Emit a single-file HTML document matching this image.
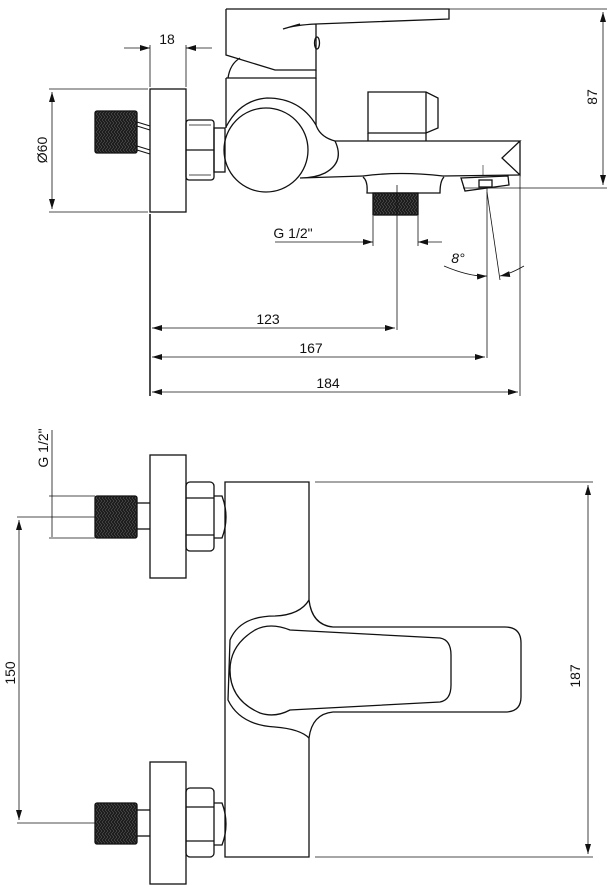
<!DOCTYPE html>
<html><head><meta charset="utf-8"><style>
html,body{margin:0;padding:0;background:#fff}
svg{display:block}
text{font-family:"Liberation Sans",sans-serif;font-size:14px;fill:#111}
</style></head><body>
<svg width="608" height="889" viewBox="0 0 608 889" xmlns="http://www.w3.org/2000/svg">
<defs>
<pattern id="th" width="3" height="6" patternUnits="userSpaceOnUse">
<rect width="3" height="6" fill="#1e1e1e"/><path d="M0 0 L3 3 L0 6" stroke="#666" stroke-width="0.5" fill="none"/>
</pattern>
<marker id="a" viewBox="0 0 10 6" refX="10" refY="3" markerWidth="10" markerHeight="6" orient="auto-start-reverse" markerUnits="userSpaceOnUse"><path d="M0 0 L10 3 L0 6 Z" fill="#111"/></marker>
</defs>
<g fill="none" stroke="#111" stroke-width="1.3">
<!-- TOP VIEW -->
<line x1="150" y1="45" x2="150" y2="87" stroke-width="0.8"/>
<line x1="186" y1="45" x2="186" y2="87" stroke-width="0.8"/>
<line x1="124" y1="48" x2="150" y2="48" stroke-width="0.8" marker-end="url(#a)"/>
<line x1="212" y1="48" x2="186" y2="48" stroke-width="0.8" marker-end="url(#a)"/>
<rect x="150" y="89" width="36" height="123"/>
<line x1="49" y1="89" x2="148" y2="89" stroke-width="0.8"/>
<line x1="49" y1="212" x2="148" y2="212" stroke-width="0.8"/>
<line x1="52" y1="92" x2="52" y2="209" stroke-width="0.8" marker-start="url(#a)" marker-end="url(#a)"/>
<rect x="95" y="111" width="42" height="42" fill="url(#th)" rx="2"/>
<line x1="137" y1="122" x2="150" y2="126" stroke-width="1"/>
<line x1="137" y1="126" x2="150" y2="130" stroke-width="1"/>
<line x1="137" y1="146" x2="150" y2="150" stroke-width="1"/>
<line x1="137" y1="150" x2="150" y2="154" stroke-width="1"/>
<rect x="186" y="120" width="28" height="60" rx="3"/>
<line x1="186" y1="150" x2="214" y2="150"/>
<line x1="189" y1="125" x2="211" y2="125" stroke-width="0.8"/>
<line x1="189" y1="175" x2="211" y2="175" stroke-width="0.8"/>
<rect x="214" y="128" width="11" height="44"/>
<!-- lever -->
<path d="M226 9 L449 9 L449 19 L316 24 Q295 25 283 29 L300 24 M316 24 L316 70 L275 70 L226 55 L226 9"/>
<ellipse cx="317" cy="43" rx="2.5" ry="6"/>
<!-- dome & body -->
<path d="M228 78 Q230 64 240 58"/>
<path d="M226 78 L316 78 L316 70"/>
<line x1="226" y1="78" x2="226" y2="128"/>
<path d="M226 127 Q240 100 267 98 Q300 98 316 125"/>
<line x1="316" y1="78" x2="316" y2="125"/>
<path d="M316 125 Q320 137 335 141 L520 141 L502 158 L520 175 L520 141"/>
<path d="M335 141 Q345 162 325 173 Q315 178 300 178 L363 176"/>
<path d="M363 176 Q400 171 443 176 L520 175"/>
<circle cx="266" cy="150" r="42"/>
<!-- knob -->
<path d="M368 92 L426 92 L438 98 L438 128 L426 133 L368 133 Z"/>
<line x1="426" y1="92" x2="426" y2="133"/>
<line x1="368" y1="133" x2="368" y2="141"/>
<line x1="426" y1="133" x2="426" y2="141"/>
<!-- outlet -->
<path d="M363 177 Q368 181 367 193 L440 193 Q440 181 444 177"/>
<rect x="373" y="193" width="45" height="22" fill="url(#th)"/>
<!-- aerator -->
<path d="M461 178 L508 176 L509 185 L465 191 Z"/>
<rect x="479" y="180" width="13" height="7"/>
<line x1="483" y1="165" x2="483" y2="175" stroke-width="0.6"/>
<!-- 87 dim -->
<line x1="449" y1="9" x2="607" y2="9" stroke-width="0.8"/>
<line x1="463" y1="188" x2="607" y2="188" stroke-width="0.8"/>
<line x1="603" y1="12" x2="603" y2="185" stroke-width="0.8" marker-start="url(#a)" marker-end="url(#a)"/>
<!-- G1/2 dims -->
<line x1="373" y1="216" x2="373" y2="246" stroke-width="0.8"/>
<line x1="418" y1="216" x2="418" y2="246" stroke-width="0.8"/>
<line x1="275" y1="242" x2="373" y2="242" stroke-width="0.8" marker-end="url(#a)"/>
<line x1="442" y1="242" x2="418" y2="242" stroke-width="0.8" marker-end="url(#a)"/>
<line x1="397" y1="185" x2="397" y2="330" stroke-width="0.8"/>
<!-- angle -->
<line x1="487" y1="188" x2="487" y2="358" stroke-width="0.8"/>
<line x1="487" y1="192" x2="500" y2="280" stroke-width="0.8"/>
<path d="M444 266 Q470 277 487 276" stroke-width="0.8" marker-end="url(#a)"/>
<path d="M524 266 Q510 274 500 276" stroke-width="0.8" marker-end="url(#a)"/>
<line x1="520" y1="176" x2="520" y2="396" stroke-width="0.8"/>
<line x1="150" y1="214" x2="150" y2="396" stroke-width="1.5"/>
<line x1="152" y1="328" x2="395" y2="328" stroke-width="0.8" marker-start="url(#a)" marker-end="url(#a)"/>
<line x1="152" y1="357" x2="485" y2="357" stroke-width="0.8" marker-start="url(#a)" marker-end="url(#a)"/>
<line x1="152" y1="392" x2="518" y2="392" stroke-width="0.8" marker-start="url(#a)" marker-end="url(#a)"/>

<!-- BOTTOM VIEW -->
<line x1="52" y1="430" x2="52" y2="537" stroke-width="0.8"/>
<line x1="49" y1="496" x2="95" y2="496" stroke-width="0.8"/>
<line x1="49" y1="538" x2="95" y2="538" stroke-width="0.8"/>
<line x1="17" y1="517" x2="95" y2="517" stroke-width="0.8"/>
<line x1="17" y1="823" x2="95" y2="823" stroke-width="0.8"/>
<line x1="19" y1="520" x2="19" y2="820" stroke-width="0.8" marker-start="url(#a)" marker-end="url(#a)"/>
<rect x="150" y="455" width="36" height="123"/>
<rect x="95" y="496" width="42" height="42" fill="url(#th)" rx="2"/>
<line x1="137" y1="503" x2="150" y2="503"/><line x1="137" y1="529" x2="150" y2="529"/>
<rect x="186" y="482" width="28" height="69" rx="4"/>
<line x1="186" y1="498" x2="214" y2="498"/><line x1="186" y1="535" x2="214" y2="535"/>
<path d="M214 496 L222 496 Q230 517 222 538 L214 538"/>
<rect x="150" y="762" width="36" height="122"/>
<rect x="95" y="803" width="42" height="41" fill="url(#th)" rx="2"/>
<line x1="137" y1="810" x2="150" y2="810"/><line x1="137" y1="836" x2="150" y2="836"/>
<rect x="186" y="788" width="28" height="69" rx="4"/>
<line x1="186" y1="807" x2="214" y2="807"/><line x1="186" y1="841" x2="214" y2="841"/>
<path d="M214 803 L222 803 Q230 824 222 845 L214 845"/>
<path d="M309 600 L309 482 L225 482 L225 857 L309 857 L309 738"/>
<path d="M309 600 Q312 625 333 627 L505 627 Q521 627 521 643 L521 697 Q521 712 505 712 L333 712 Q312 714 309 738"/>
<path d="M309 600 Q300 615 275 616 Q240 616 230 640 L228 700 Q240 725 275 727 Q300 729 309 738"/>
<path d="M290 630 Q270 622 255 630 Q230 645 230 670 Q230 700 260 713 Q275 718 290 710 L440 702 Q451 700 451 685 L451 655 Q451 640 440 638 Z"/>
<line x1="315" y1="482" x2="593" y2="482" stroke-width="0.8"/>
<line x1="315" y1="857" x2="593" y2="857" stroke-width="0.8"/>
<line x1="588" y1="485" x2="588" y2="854" stroke-width="0.8" marker-start="url(#a)" marker-end="url(#a)"/>
</g>
<g>
<text x="167" y="44" text-anchor="middle">18</text>
<text transform="translate(47,150) rotate(-90)" text-anchor="middle">Ø60</text>
<text transform="translate(597,97) rotate(-90)" text-anchor="middle">87</text>
<text x="293" y="238" text-anchor="middle">G 1/2"</text>
<text x="458" y="263" text-anchor="middle" font-style="italic">8°</text>
<text x="268" y="324" text-anchor="middle">123</text>
<text x="311" y="353" text-anchor="middle">167</text>
<text x="328" y="388" text-anchor="middle">184</text>
<text transform="translate(48,448) rotate(-90)" text-anchor="middle">G 1/2"</text>
<text transform="translate(15,673) rotate(-90)" text-anchor="middle">150</text>
<text transform="translate(580,676) rotate(-90)" text-anchor="middle">187</text>
</g>
</svg>
</body></html>
